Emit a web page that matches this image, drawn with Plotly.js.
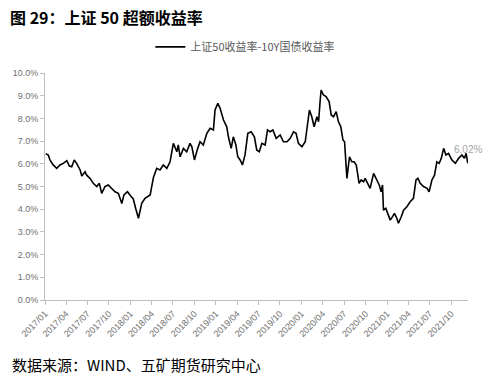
<!DOCTYPE html>
<html>
<head>
<meta charset="utf-8">
<script src="https://cdn.plot.ly/plotly-3.0.1.min.js"></script>
<style>
html,body{margin:0;padding:0;background:#fff;}
#chart{width:495px;height:392px;}
</style>
</head>
<body>
<div id="chart"></div>
<script>
const chartTitle = "图 29：上证 50 超额收益率";
const seriesName = "上证50收益率-10Y国债收益率";
const sourceText = "数据来源：WIND、五矿期货研究中心";
const lastLabel = "6.02%";

const dates = [
"2017-01-04","2017-01-15","2017-01-22","2017-02-05","2017-02-20","2017-03-06","2017-03-20","2017-04-04","2017-04-15","2017-04-25",
"2017-05-06","2017-05-16","2017-05-31","2017-06-07","2017-06-21","2017-06-28","2017-07-12","2017-07-20","2017-07-26","2017-08-10",
"2017-08-21","2017-08-31","2017-09-14","2017-09-28","2017-10-13","2017-10-27","2017-11-10","2017-11-25","2017-12-04","2017-12-19",
"2018-01-02","2018-01-13","2018-01-23","2018-02-04","2018-02-18","2018-03-04","2018-03-26","2018-04-09","2018-04-23","2018-05-07",
"2018-05-21","2018-06-05","2018-06-19","2018-07-03","2018-07-18","2018-07-24","2018-08-01","2018-08-15","2018-08-29","2018-09-12",
"2018-09-20","2018-10-01","2018-10-15","2018-10-25","2018-11-08","2018-11-23","2018-12-07","2018-12-21","2018-12-28","2019-01-09",
"2019-01-19","2019-02-02","2019-02-16","2019-02-23","2019-03-07","2019-03-12","2019-03-16","2019-03-27","2019-04-04","2019-04-14",
"2019-04-24","2019-05-05","2019-05-17","2019-05-31","2019-06-14","2019-06-24","2019-07-05","2019-07-16","2019-07-30","2019-08-09",
"2019-08-20","2019-09-01","2019-09-15","2019-10-02","2019-10-16","2019-10-31","2019-11-14","2019-11-28","2019-12-09","2019-12-19",
"2020-01-03","2020-01-17","2020-02-04","2020-02-14","2020-02-24","2020-03-07","2020-03-14","2020-03-21","2020-03-25","2020-04-04",
"2020-04-15","2020-04-28","2020-05-07","2020-05-17","2020-05-28","2020-06-07","2020-06-17","2020-06-26","2020-07-03","2020-07-13",
"2020-07-24","2020-08-03","2020-08-13","2020-08-22","2020-08-27","2020-09-03","2020-09-12","2020-09-22","2020-09-29","2020-10-13",
"2020-10-20","2020-11-04","2020-11-18","2020-11-28","2020-12-06","2020-12-12","2020-12-16","2020-12-26","2021-01-06","2021-01-14",
"2021-01-24","2021-02-01","2021-02-11","2021-02-18","2021-03-02","2021-03-12","2021-03-26","2021-04-09","2021-04-23","2021-05-04",
"2021-05-12","2021-05-22","2021-06-05","2021-06-20","2021-06-29","2021-07-11","2021-07-22","2021-08-01","2021-08-11","2021-08-20",
"2021-08-30","2021-09-09","2021-09-20","2021-10-04","2021-10-19","2021-11-02","2021-11-16","2021-11-27","2021-12-04","2021-12-11"
];

const spreadValues = [
6.45,6.39,6.17,5.95,5.80,5.95,6.02,6.14,5.90,5.87,
6.17,6.02,5.73,5.46,5.65,5.50,5.36,5.20,5.14,5.00,
5.14,4.70,5.00,5.07,4.92,4.77,4.70,4.25,4.63,4.77,
4.58,4.45,4.04,3.60,4.26,4.48,4.63,5.40,5.80,5.73,
5.95,5.80,6.09,6.90,6.53,6.83,6.31,6.68,6.53,6.90,
6.75,6.17,6.68,6.97,6.83,7.34,7.56,7.49,8.37,8.66,
8.44,7.93,7.63,7.19,6.68,6.90,7.19,6.83,6.31,6.17,
5.95,6.39,7.34,7.41,7.19,6.61,6.53,6.90,6.83,7.49,
7.41,7.49,7.12,7.27,6.97,6.97,7.12,7.41,7.34,6.90,
6.75,6.97,8.37,8.07,7.63,8.07,7.85,8.81,9.25,9.03,
8.96,8.74,8.15,8.07,8.30,7.85,7.63,7.05,6.97,5.36,
6.31,6.09,6.09,5.95,5.50,5.14,5.29,5.21,5.36,5.07,
4.92,5.58,5.29,5.07,4.77,5.07,3.96,4.04,3.74,3.52,
3.67,3.82,3.60,3.38,3.67,3.96,4.11,4.33,4.48,5.29,
5.36,5.14,5.00,4.92,4.77,5.29,5.50,6.09,6.02,6.24,
6.68,6.39,6.46,6.17,6.02,6.24,6.39,6.24,6.46,6.02
];

const yTickVals = [0,1,2,3,4,5,6,7,8,9,10];
const yTickText = ["0.0%","1.0%","2.0%","3.0%","4.0%","5.0%","6.0%","7.0%","8.0%","9.0%","10.0%"];

const trace = {
  x: dates,
  y: spreadValues,
  type: "scatter",
  mode: "lines",
  name: seriesName,
  line: {color: "#000000", width: 1.6},
  hoverinfo: "skip"
};

const layout = {
  width: 495,
  height: 392,
  margin: {l: 45, r: 27, t: 73, b: 92},
  paper_bgcolor: "#ffffff",
  plot_bgcolor: "#ffffff",
  font: {family: "Liberation Sans, Arial, sans-serif", color: "#666666", size: 9},
  showlegend: true,
  legend: {
    orientation: "h",
    x: 0.249, xanchor: "left",
    y: 1.115, yanchor: "middle",
    font: {family: "Noto Sans CJK SC, sans-serif", size: 11, color: "#595959"},
    bgcolor: "rgba(0,0,0,0)"
  },
  xaxis: {
    type: "date",
    range: ["2017-01-01", "2021-12-12"],
    tickmode: "linear",
    tick0: "2017-01-01",
    dtick: "M3",
    tickformat: "%Y/%m",
    tickangle: -45,
    ticks: "outside",
    ticklen: 4,
    tickcolor: "#bfbfbf",
    showline: true,
    linecolor: "#bfbfbf",
    linewidth: 1,
    showgrid: false,
    zeroline: false,
    tickfont: {size: 9, color: "#707070"}
  },
  yaxis: {
    range: [0, 10],
    tickmode: "array",
    tickvals: yTickVals,
    ticktext: yTickText,
    ticks: "outside",
    ticklen: 4,
    tickcolor: "#bfbfbf",
    showline: true,
    linecolor: "#bfbfbf",
    linewidth: 1,
    showgrid: false,
    zeroline: false,
    tickfont: {size: 9, color: "#707070"}
  },
  annotations: [
    {
      text: "<b>" + chartTitle + "</b>",
      xref: "paper", yref: "paper",
      x: -0.088, y: 1.247, xanchor: "left", yanchor: "middle",
      showarrow: false,
      font: {family: "Noto Sans CJK SC, sans-serif", size: 16, color: "#000000"}
    },
    {
      text: sourceText,
      xref: "paper", yref: "paper",
      x: -0.083, y: -0.286, xanchor: "left", yanchor: "middle",
      showarrow: false,
      font: {family: "Noto Sans CJK SC, sans-serif", size: 15, color: "#000000"}
    },
    {
      text: lastLabel,
      x: dates[dates.length - 1],
      y: spreadValues[spreadValues.length - 1],
      xref: "x", yref: "y",
      xanchor: "center", yanchor: "bottom",
      yshift: 6,
      showarrow: false,
      font: {family: "Liberation Sans, Arial, sans-serif", size: 10, color: "#a6a6a6"}
    }
  ]
};

Plotly.newPlot("chart", [trace], layout, {displayModeBar: false, staticPlot: true});
</script>
</body>
</html>
